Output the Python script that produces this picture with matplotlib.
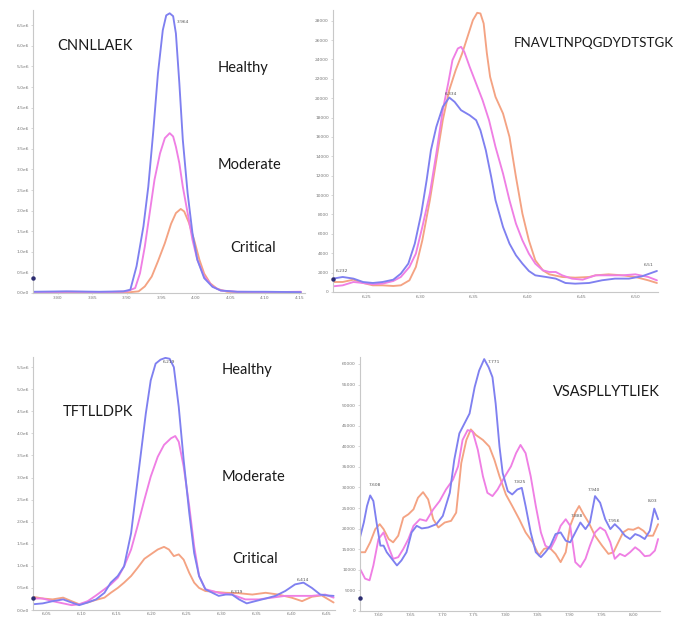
import numpy as np
import matplotlib
matplotlib.use("Agg")
import matplotlib.pyplot as plt

# colours of the three groups
c_healthy = '#7f80f0'
c_moderate = '#ef7fe4'
c_critical = '#f4a383'

# --- CNNLLAEK (intensity, 1e6) ---
cnn_rt_healthy = [3.764, 3.812, 3.860, 3.895, 3.905, 3.914, 3.924, 3.931, 3.938, 3.945, 3.952, 3.957, 3.962,
                  3.967, 3.971, 3.976, 3.981, 3.988, 3.995, 4.002, 4.012, 4.024, 4.036, 4.060, 4.100, 4.152]
cnn_healthy = [0.03, 0.04, 0.03, 0.04, 0.08, 0.65, 1.62, 2.58, 3.88, 5.33, 6.38, 6.74, 6.79,
               6.72, 6.30, 5.09, 3.72, 2.42, 1.45, 0.81, 0.36, 0.15, 0.06, 0.03, 0.03, 0.02]
cnn_rt_moderate = [3.764, 3.820, 3.870, 3.900, 3.912, 3.919, 3.926, 3.933, 3.940, 3.948, 3.955, 3.962, 3.967,
                   3.971, 3.976, 3.981, 3.988, 3.995, 4.002, 4.012, 4.024, 4.036, 4.060, 4.110, 4.152]
cnn_moderate = [0.02, 0.03, 0.02, 0.04, 0.12, 0.48, 1.13, 1.94, 2.75, 3.39, 3.76, 3.88, 3.80,
                3.55, 3.15, 2.58, 1.94, 1.29, 0.81, 0.40, 0.16, 0.06, 0.03, 0.02, 0.03]
cnn_rt_critical = [3.764, 3.830, 3.880, 3.905, 3.917, 3.926, 3.936, 3.945, 3.955, 3.964, 3.971, 3.978,
                   3.983, 3.990, 3.998, 4.005, 4.012, 4.021, 4.031, 4.045, 4.070, 4.110, 4.152]
cnn_critical = [0.02, 0.02, 0.01, 0.02, 0.04, 0.16, 0.40, 0.77, 1.21, 1.68, 1.94, 2.04,
                1.98, 1.70, 1.25, 0.81, 0.47, 0.23, 0.10, 0.03, 0.02, 0.02, 0.02]

# --- FNAVLTNPQGDYDTSTGK ---
fna_rt_healthy = [6.219, 6.228, 6.238, 6.247, 6.256, 6.265, 6.275, 6.282, 6.289, 6.295,
                  6.301, 6.306, 6.310, 6.315, 6.321, 6.327, 6.332, 6.338, 6.346, 6.352,
                  6.356, 6.361, 6.366, 6.370, 6.377, 6.383, 6.389, 6.395, 6.401, 6.407,
                  6.417, 6.426, 6.435, 6.444, 6.457, 6.469, 6.481, 6.494, 6.506, 6.520]
fna_healthy = [1380, 1550, 1380, 1030, 930, 1030, 1270, 1890, 2930, 4990,
               8090, 11530, 14630, 17040, 19100, 20070, 19620, 18760, 18240, 17730,
               16690, 14630, 11880, 9470, 6710, 4990, 3790, 2930, 2170, 1720,
               1550, 1380, 930, 860, 930, 1210, 1380, 1380, 1620, 2170]
fna_rt_moderate = [6.219, 6.228, 6.238, 6.247, 6.256, 6.265, 6.275, 6.282, 6.290, 6.296,
                   6.302, 6.309, 6.315, 6.321, 6.326, 6.330, 6.335, 6.338, 6.341, 6.346,
                   6.352, 6.358, 6.364, 6.370, 6.377, 6.383, 6.389, 6.395, 6.401, 6.407,
                   6.414, 6.420, 6.426, 6.432, 6.441, 6.451, 6.463, 6.475, 6.488, 6.500,
                   6.512, 6.520]
fna_moderate = [585, 688, 1033, 929, 792, 861, 1136, 1549, 2582, 3958,
                6712, 10154, 14285, 18759, 21513, 23923, 25128, 25300, 24784, 23234,
                21513, 19791, 17726, 14973, 12219, 9466, 7056, 5335, 3958, 2926,
                2237, 2065, 2065, 1721, 1377, 1274, 1721, 1721, 1721, 1824,
                1549, 1205]
fna_rt_critical = [6.219, 6.228, 6.238, 6.247, 6.256, 6.265, 6.275, 6.282, 6.290, 6.296,
                   6.302, 6.309, 6.315, 6.321, 6.327, 6.333, 6.339, 6.344, 6.349, 6.353,
                   6.356, 6.359, 6.362, 6.365, 6.370, 6.377, 6.383, 6.389, 6.395, 6.401,
                   6.407, 6.414, 6.420, 6.432, 6.444, 6.457, 6.463, 6.475, 6.488, 6.500,
                   6.512, 6.520]
fna_critical = [1033, 1033, 1274, 929, 688, 688, 620, 688, 1205, 2582,
                5335, 9466, 13596, 17726, 20824, 22889, 24610, 26331, 28052, 28810,
                28741, 27708, 24610, 22201, 20136, 18415, 16005, 11875, 8089, 5335,
                3270, 2237, 1824, 1549, 1480, 1549, 1721, 1824, 1721, 1549,
                1205, 929]

# --- TFTLLDPK (intensity, 1e6) ---
tft_rt_healthy = [6.031, 6.045, 6.059, 6.074, 6.086, 6.097, 6.109, 6.121, 6.133, 6.142,
                  6.152, 6.161, 6.171, 6.178, 6.185, 6.192, 6.199, 6.206, 6.213, 6.220,
                  6.226, 6.232, 6.239, 6.246, 6.254, 6.261, 6.268, 6.277, 6.287, 6.296,
                  6.306, 6.315, 6.325, 6.336, 6.348, 6.363, 6.377, 6.391, 6.405, 6.417,
                  6.429, 6.441, 6.450, 6.460]
tft_healthy = [0.13, 0.15, 0.20, 0.24, 0.17, 0.11, 0.17, 0.24, 0.39, 0.62,
               0.77, 0.99, 1.74, 2.65, 3.55, 4.45, 5.20, 5.58, 5.67, 5.71,
               5.69, 5.50, 4.60, 3.40, 2.20, 1.29, 0.77, 0.47, 0.39, 0.32,
               0.35, 0.35, 0.24, 0.15, 0.20, 0.26, 0.32, 0.43, 0.58, 0.62,
               0.50, 0.35, 0.33, 0.32]
tft_rt_moderate = [6.031, 6.045, 6.059, 6.074, 6.086, 6.097, 6.109, 6.121, 6.133, 6.142,
                   6.152, 6.161, 6.171, 6.180, 6.190, 6.199, 6.209, 6.218, 6.228, 6.234,
                   6.239, 6.246, 6.254, 6.261, 6.268, 6.277, 6.287, 6.296, 6.315, 6.334,
                   6.353, 6.372, 6.391, 6.410, 6.429, 6.448, 6.460]
tft_moderate = [0.26, 0.26, 0.20, 0.15, 0.11, 0.13, 0.20, 0.33, 0.47, 0.58,
                0.73, 0.99, 1.37, 1.89, 2.50, 3.02, 3.47, 3.74, 3.89, 3.94,
                3.81, 3.25, 2.35, 1.44, 0.77, 0.47, 0.43, 0.39, 0.35, 0.24,
                0.24, 0.28, 0.32, 0.32, 0.32, 0.35, 0.28]
tft_rt_critical = [6.031, 6.045, 6.059, 6.074, 6.086, 6.097, 6.109, 6.121, 6.133, 6.142,
                   6.152, 6.161, 6.171, 6.180, 6.190, 6.199, 6.209, 6.218, 6.225, 6.232,
                   6.239, 6.246, 6.254, 6.261, 6.268, 6.277, 6.291, 6.306, 6.325, 6.344,
                   6.363, 6.381, 6.400, 6.415, 6.429, 6.443, 6.460]
tft_critical = [0.30, 0.26, 0.24, 0.28, 0.20, 0.13, 0.17, 0.23, 0.28, 0.39,
                0.50, 0.62, 0.77, 0.95, 1.16, 1.26, 1.37, 1.43, 1.37, 1.22,
                1.26, 1.14, 0.84, 0.62, 0.50, 0.43, 0.41, 0.39, 0.38, 0.35,
                0.39, 0.35, 0.28, 0.20, 0.30, 0.33, 0.17]

# --- VSASPLLYTLIEK ---
vsa_rt_healthy = [7.571, 7.577, 7.582, 7.587, 7.592, 7.597, 7.603, 7.608, 7.613, 7.621,
                  7.629, 7.636, 7.644, 7.652, 7.660, 7.668, 7.678, 7.691, 7.701, 7.712,
                  7.719, 7.727, 7.735, 7.743, 7.751, 7.758, 7.766, 7.773, 7.779, 7.784,
                  7.790, 7.795, 7.803, 7.810, 7.818, 7.825, 7.831, 7.839, 7.847, 7.855,
                  7.862, 7.870, 7.878, 7.886, 7.894, 7.901, 7.909, 7.917, 7.925, 7.932,
                  7.940, 7.948, 7.956, 7.964, 7.971, 7.979, 7.987, 7.995, 8.003, 8.010,
                  8.018, 8.026, 8.033, 8.039]
vsa_healthy = [17885, 21494, 25504, 28070, 26707, 21494, 15880, 15880, 14276, 12672,
               11068, 12271, 14276, 19088, 20692, 20050, 20291, 21093, 23098, 28712,
               36732, 43148, 45554, 47960, 54376, 58386, 61193, 59188, 56782, 50366,
               39940, 33524, 29113, 28311, 29514, 29915, 25504, 19088, 14276, 13073,
               14276, 15880, 18687, 19088, 17083, 16682, 19088, 21494, 19890, 21494,
               27910, 26306, 22296, 19890, 21093, 19890, 18286, 17484, 18687, 18286,
               17484, 19489, 24862, 22296]
vsa_rt_moderate = [7.571, 7.579, 7.586, 7.592, 7.600, 7.608, 7.616, 7.623, 7.631, 7.639,
                   7.647, 7.655, 7.665, 7.675, 7.686, 7.696, 7.706, 7.717, 7.725, 7.732,
                   7.740, 7.748, 7.756, 7.764, 7.771, 7.779, 7.787, 7.797, 7.808, 7.816,
                   7.823, 7.831, 7.839, 7.847, 7.855, 7.862, 7.870, 7.878, 7.886, 7.894,
                   7.901, 7.909, 7.917, 7.925, 7.932, 7.940, 7.948, 7.956, 7.964, 7.971,
                   7.979, 7.987, 7.995, 8.003, 8.010, 8.018, 8.026, 8.034, 8.039]
vsa_moderate = [10266, 7860, 7459, 11068, 17484, 19088, 15479, 12672, 13073, 15078,
                17484, 20692, 22296, 21895, 24702, 26707, 29514, 31920, 35128, 41544,
                43950, 43549, 39138, 32722, 28712, 27910, 29514, 32321, 35128, 38336,
                40341, 38336, 32722, 25504, 19088, 15880, 15078, 17484, 20692, 22296,
                20692, 11870, 10667, 12672, 15880, 19088, 20291, 19489, 16682, 12672,
                13875, 13313, 14276, 15479, 14677, 13313, 13474, 14677, 17484]
vsa_rt_critical = [7.571, 7.579, 7.587, 7.595, 7.602, 7.608, 7.616, 7.623, 7.631, 7.639,
                   7.647, 7.655, 7.662, 7.670, 7.678, 7.686, 7.694, 7.704, 7.714, 7.722,
                   7.730, 7.738, 7.745, 7.753, 7.764, 7.774, 7.782, 7.790, 7.800, 7.810,
                   7.821, 7.831, 7.842, 7.852, 7.860, 7.868, 7.878, 7.886, 7.894, 7.901,
                   7.909, 7.915, 7.922, 7.930, 7.940, 7.951, 7.961, 7.969, 7.977, 7.984,
                   7.992, 8.000, 8.008, 8.016, 8.023, 8.031, 8.039]
vsa_critical = [14276, 14276, 16682, 19890, 21093, 19890, 17484, 16682, 18286, 22697,
                23499, 24702, 27509, 28872, 27108, 22296, 20291, 21494, 21895, 23900,
                35930, 41544, 44110, 42747, 41544, 39940, 36732, 32722, 28311, 25504,
                22296, 19088, 16682, 13474, 15078, 15479, 13875, 11870, 14276, 20692,
                23900, 25504, 23499, 21494, 18286, 15880, 13875, 14276, 16842, 19088,
                19890, 19729, 20291, 19489, 18286, 18286, 21093]

# peak-apex labels from the viewer (text, rt, intensity)
cnn_peaks = [("3.964", 3.972, 6.57)]
fna_peaks = [("6.232", 6.222, 2170), ("6.334", 6.3225, 20400), ("6.51", 6.508, 2750)]
tft_peaks = [("6.219", 6.216, 5.62), ("6.319", 6.313, 0.40), ("6.414", 6.407, 0.68)]
vsa_peaks = [("7.608", 7.584, 30500), ("7.771", 7.771, 60400), ("7.825", 7.813, 31400),
             ("7.888", 7.901, 23100), ("7.940", 7.929, 29400), ("7.956", 7.960, 21900),
             ("8.03", 8.023, 26700)]

# small marker the viewer puts on the y axis
cnn_marker = 0.36
fna_marker = 1380
tft_marker = 0.28
vsa_marker = 3050


def draw_panel(ax, series, xlim, ylim, xticks, yticks, ylabels, peaks, marker_y, xpad=1.5):
    for rt, vals, col in series:
        ax.plot(rt, vals, color=col, lw=1.35, solid_capstyle='round')
    ax.set_xlim(*xlim)
    ax.set_ylim(*ylim)
    ax.set_xticks(xticks)
    ax.set_xticklabels([f"{t:.2f}" for t in xticks])
    ax.set_yticks(yticks)
    ax.set_yticklabels(ylabels)
    for s in ['top', 'right']:
        ax.spines[s].set_visible(False)
    for s in ['left', 'bottom']:
        ax.spines[s].set_color('#c8c8c8')
        ax.spines[s].set_linewidth(0.8)
    ax.tick_params(labelsize=3.2, labelcolor='#777777', color='#c8c8c8', length=1.5, width=0.5, pad=1.5)
    ax.tick_params(axis='x', pad=xpad, length=1.0)
    for txt, px, py in peaks:
        ax.text(px, py, txt, fontsize=3.2, color='#555555', va='center', ha='left')
    ax.plot([xlim[0]], [marker_y], 'o', color='#2c2c70', ms=2.2, clip_on=False, zorder=5)


fig = plt.figure(figsize=(6.84, 6.18), dpi=100)
W, H = 684, 618


def add_axes_px(left, top, right, bottom):
    return fig.add_axes([left / W, 1 - bottom / H, (right - left) / W, (bottom - top) / H])


ax1 = add_axes_px(33, 10, 305, 293)
ax2 = add_axes_px(333, 10, 658, 292)
ax3 = add_axes_px(33, 357, 335, 610)
ax4 = add_axes_px(360, 357, 660, 611)

e6_ticks1 = np.arange(0, 6.51, 0.5)
draw_panel(ax1,
           [(cnn_rt_critical, cnn_critical, c_critical),
            (cnn_rt_moderate, cnn_moderate, c_moderate),
            (cnn_rt_healthy, cnn_healthy, c_healthy)],
           (3.764, 4.158), (0, 6.87),
           np.arange(3.80, 4.151, 0.05), e6_ticks1,
           ["0.0e0"] + [f"{t:.1f}e6" for t in e6_ticks1[1:]],
           cnn_peaks, cnn_marker)

draw_panel(ax2,
           [(fna_rt_critical, fna_critical, c_critical),
            (fna_rt_moderate, fna_moderate, c_moderate),
            (fna_rt_healthy, fna_healthy, c_healthy)],
           (6.219, 6.521), (0, 29100),
           np.arange(6.25, 6.501, 0.05), np.arange(0, 28001, 2000),
           [str(t) for t in range(0, 28001, 2000)],
           fna_peaks, fna_marker)

e6_ticks3 = np.arange(0, 5.51, 0.5)
draw_panel(ax3,
           [(tft_rt_critical, tft_critical, c_critical),
            (tft_rt_moderate, tft_moderate, c_moderate),
            (tft_rt_healthy, tft_healthy, c_healthy)],
           (6.031, 6.462), (0, 5.73),
           np.arange(6.05, 6.451, 0.05), e6_ticks3,
           ["0.0e0"] + [f"{t:.1f}e6" for t in e6_ticks3[1:]],
           tft_peaks, tft_marker, xpad=0.5)

draw_panel(ax4,
           [(vsa_rt_critical, vsa_critical, c_critical),
            (vsa_rt_moderate, vsa_moderate, c_moderate),
            (vsa_rt_healthy, vsa_healthy, c_healthy)],
           (7.571, 8.042), (0, 61700),
           np.arange(7.60, 8.001, 0.05), np.arange(0, 60001, 5000),
           [str(t) for t in range(0, 60001, 5000)],
           vsa_peaks, vsa_marker, xpad=0.5)

# peptide names and group labels
label_font = dict(family=['Lato', 'DejaVu Sans'], color='#1a1a1a', va='center', ha='left')
fig.text(57 / W, 1 - 46 / H, "CNNLLAEK", fontsize=10.5, **label_font)
fig.text(514 / W, 1 - 43 / H, "FNAVLTNPQGDYDTSTGK", fontsize=9.6, **label_font)
fig.text(63 / W, 1 - 412 / H, "TFTLLDPK", fontsize=10.5, **label_font)
fig.text(553 / W, 1 - 392 / H, "VSASPLLYTLIEK", fontsize=10.5, **label_font)

fig.text(218 / W, 1 - 68 / H, "Healthy", fontsize=10.5, **label_font)
fig.text(218 / W, 1 - 165 / H, "Moderate", fontsize=10.5, **label_font)
fig.text(230 / W, 1 - 248 / H, "Critical", fontsize=10.5, **label_font)
fig.text(222 / W, 1 - 370 / H, "Healthy", fontsize=10.5, **label_font)
fig.text(222 / W, 1 - 477 / H, "Moderate", fontsize=10.5, **label_font)
fig.text(232 / W, 1 - 559 / H, "Critical", fontsize=10.5, **label_font)

fig.savefig("out.png", dpi=100)
